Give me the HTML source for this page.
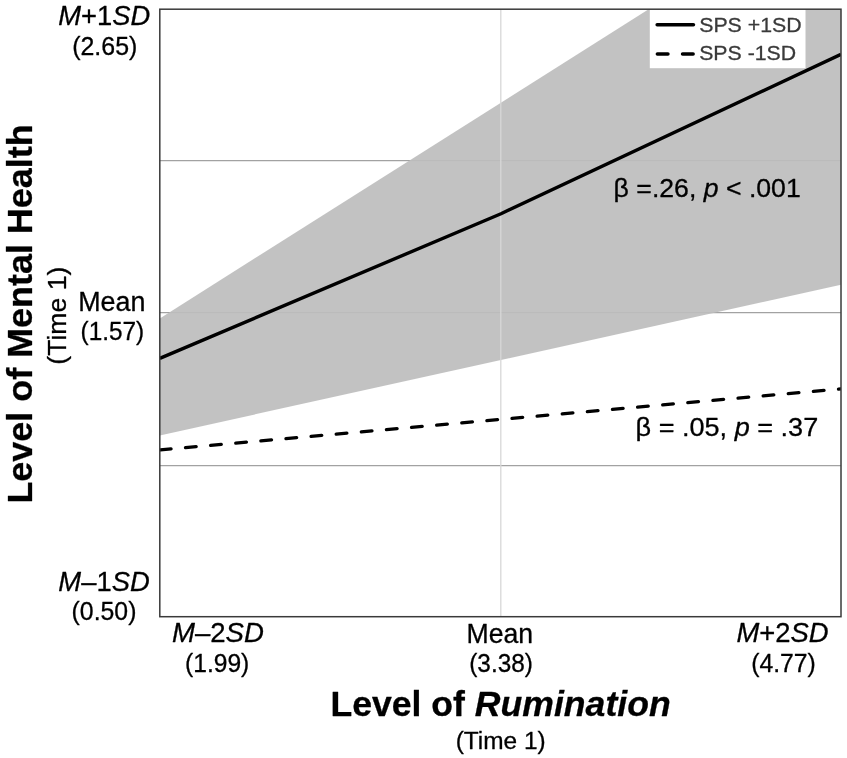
<!DOCTYPE html>
<html lang="en">
<head>
<meta charset="utf-8">
<title>Level of Mental Health by Level of Rumination</title>
<style>
html,body{margin:0;padding:0;background:#fff;}
body{width:847px;height:758px;overflow:hidden;}
svg{display:block;font-family:"Liberation Sans",sans-serif;}
</style>
</head>
<body>
<svg width="847" height="758" viewBox="0 0 847 758">
<rect width="847" height="758" fill="#ffffff"/>
<defs>
<clipPath id="plot"><rect x="159.8" y="9.2" width="681.2" height="607.5"/></clipPath>
</defs>
<g clip-path="url(#plot)">
<!-- horizontal grid (under band) -->
<g stroke="#a2a2a2" stroke-width="1.25">
<line x1="159.8" x2="841" y1="160.5" y2="160.5"/>
<line x1="159.8" x2="841" y1="312.7" y2="312.7"/>
<line x1="159.8" x2="841" y1="465.6" y2="465.6"/>
</g>
<!-- confidence band -->
<polygon points="159.8,318.4 841,-112.4 841,284.8 159.8,435.4" fill="#bdbdbd" fill-opacity="0.92"/>
<!-- vertical grid -->
<line x1="500.8" x2="500.8" y1="9.2" y2="616.7" stroke="#d8d8d8" stroke-width="1.3"/>
<!-- lines -->
<polyline points="159.8,358.4 501,213.7 841,54.4" fill="none" stroke="#000" stroke-width="3.4" stroke-linejoin="round"/>
<line x1="160.4" y1="449.8" x2="841" y2="388.9" stroke="#000" stroke-width="3.3" stroke-linecap="round" stroke-dasharray="10.7 14.515"/>
<!-- legend -->
<rect x="649.8" y="9.2" width="155.7" height="59" fill="#ffffff"/>
<line x1="657.15" x2="693.45" y1="24.7" y2="24.7" stroke="#000" stroke-width="3.5" stroke-linecap="round"/>
<line x1="657.35" x2="693.2" y1="53.9" y2="53.9" stroke="#000" stroke-width="3.5" stroke-linecap="round" stroke-dasharray="10.6 14.6"/>
</g>
<!-- plot frame -->
<rect x="159.8" y="9.2" width="681.2" height="607.5" fill="none" stroke="#3a3a3a" stroke-width="1.5"/>
<g stroke="#000" stroke-width="0.3" stroke-linejoin="round">
<text transform="translate(58.34,24.80) scale(1.0129,1)" font-size="27"><tspan font-style="italic">M</tspan>+1<tspan font-style="italic">SD</tspan></text>
<text transform="translate(72.20,55.10) scale(1.0016,1)" font-size="24.9">(2.65)</text>
<text transform="translate(78.16,310.80) scale(0.9953,1)" font-size="27">Mean</text>
<text transform="translate(80.53,339.90) scale(0.9790,1)" font-size="24.9">(1.57)</text>
<text transform="translate(58.34,591.30) scale(1.0147,1)" font-size="27"><tspan font-style="italic">M</tspan>–1<tspan font-style="italic">SD</tspan></text>
<text transform="translate(71.60,620.30) scale(0.9968,1)" font-size="24.9">(0.50)</text>
<text transform="translate(171.93,642.20) scale(1.0215,1)" font-size="27"><tspan font-style="italic">M</tspan>–2<tspan font-style="italic">SD</tspan></text>
<text transform="translate(185.02,672.00) scale(0.9887,1)" font-size="24.9">(1.99)</text>
<text transform="translate(466.48,642.60) scale(0.9874,1)" font-size="27">Mean</text>
<text transform="translate(469.23,672.40) scale(0.9790,1)" font-size="24.9">(3.38)</text>
<text transform="translate(736.44,642.10) scale(1.0162,1)" font-size="27"><tspan font-style="italic">M</tspan>+2<tspan font-style="italic">SD</tspan></text>
<text transform="translate(751.21,672.20) scale(0.9935,1)" font-size="24.9">(4.77)</text>
<text transform="translate(330.40,716.10) scale(1.0205,1)" font-size="34.9" font-weight="bold">Level of <tspan font-style="italic">Rumination</tspan></text>
<text transform="translate(455.67,748.90) scale(1.0187,1)" font-size="24.0">(Time 1)</text>
<text transform="translate(613.61,197.20) scale(1.0248,1)" font-size="26">β =.26, <tspan font-style="italic">p</tspan> &lt; .001</text>
<text transform="translate(635.58,436.40) scale(1.0417,1)" font-size="26">β = .05, <tspan font-style="italic">p</tspan> = .37</text>
<text transform="translate(699.18,31.50) scale(1.0193,1)" font-size="20.9" fill="#3a3a3a" stroke="#3a3a3a">SPS +1SD</text>
<text transform="translate(699.18,59.80) scale(1.0177,1)" font-size="20.9" fill="#3a3a3a" stroke="#3a3a3a">SPS -1SD</text>
<text transform="translate(32.30,503.60) rotate(-90) scale(0.9983,1)" font-size="36.0" font-weight="bold">Level of Mental Health</text>
<text transform="translate(65.70,364.67) rotate(-90) scale(1.0475,1)" font-size="25.4">(Time 1)</text>
</g>

</svg>
</body>
</html>
